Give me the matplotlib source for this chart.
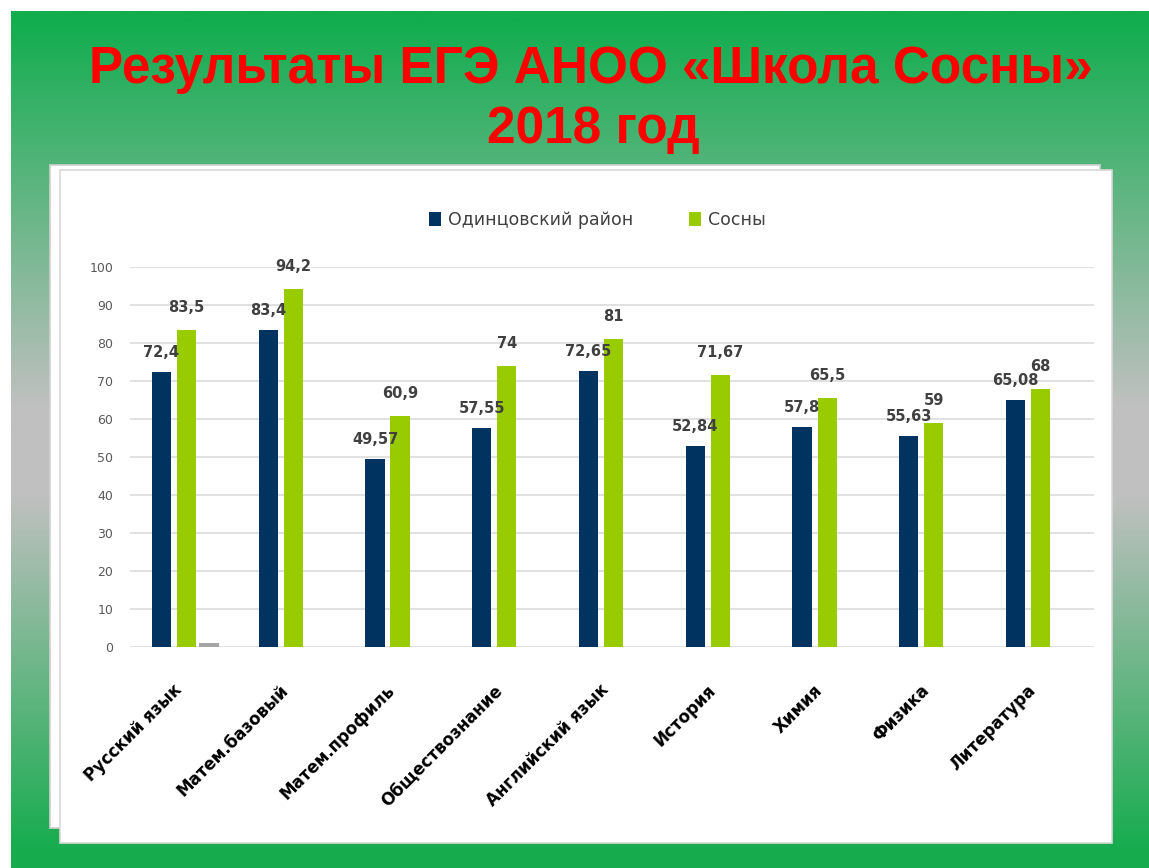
import numpy as np
import matplotlib
matplotlib.use("Agg")
import matplotlib.pyplot as plt
from matplotlib.patches import Rectangle, Patch
from matplotlib.transforms import offset_copy

# ---- data ----
categories = ["Русский язык", "Матем.базовый", "Матем.профиль", "Обществознание",
              "Английский язык", "История", "Химия", "Физика", "Литература"]
odintsovo = [72.4, 83.4, 49.57, 57.55, 72.65, 52.84, 57.8, 55.63, 65.08]
sosny = [83.5, 94.2, 60.9, 74, 81, 71.67, 65.5, 59, 68]
extra = [1, np.nan, np.nan, np.nan, np.nan, np.nan, np.nan, np.nan, np.nan]
odintsovo_labels = ["72,4", "83,4", "49,57", "57,55", "72,65", "52,84", "57,8", "55,63", "65,08"]
sosny_labels = ["83,5", "94,2", "60,9", "74", "81", "71,67", "65,5", "59", "68"]
series_names = ["Одинцовский район", "Сосны"]
yticks = [0, 10, 20, 30, 40, 50, 60, 70, 80, 90, 100]
title_lines = ["Результаты ЕГЭ АНОО «Школа Сосны»", "2018 год"]

W, H = 1149, 868
fig = plt.figure(figsize=(W / 100, H / 100), dpi=100)
fig.patch.set_facecolor("white")

# ---- background (slide) ----
bg = fig.add_axes([0, 0, 1, 1])
bg.set_xlim(0, W)
bg.set_ylim(H, 0)
bg.axis("off")
ys = np.arange(H)
stops_y = [11, 400, 490, 850]
top = np.array([18, 173, 79]) / 255
mid = np.array([192, 192, 192]) / 255
bot = np.array([22, 172, 78]) / 255
grad = np.zeros((H, 1, 3))
for c in range(3):
    grad[:, 0, c] = np.interp(ys, stops_y, [top[c], mid[c], mid[c], bot[c]])
bg.imshow(grad, extent=(11, W, H, 11), aspect="auto", zorder=0)
# panels
bg.add_patch(Rectangle((50, 165), 1050, 663, facecolor="white", edgecolor="#d0d0d0", lw=1.2, zorder=1))
bg.add_patch(Rectangle((60, 170), 1052, 673, facecolor="white", edgecolor="#d8d8d8", lw=1.2, zorder=2))

# title
bg.text(591, 70, title_lines[0], color="#ff0000", fontsize=37, fontweight="bold",
        family="Liberation Sans", ha="center", va="center", zorder=3)
bg.text(593, 130, title_lines[1], color="#ff0000", fontsize=37, fontweight="bold",
        family="Liberation Sans", ha="center", va="center", zorder=3)

# ---- chart ----
left, right, ytop, ybot = 130, 1094, 267, 647
ax = fig.add_axes([left / W, 1 - ybot / H, (right - left) / W, (ybot - ytop) / H])
ax.set_facecolor("none")
x = np.arange(len(categories))
bw = 0.18
c_dark, c_green, c_gray = "#00335f", "#99cc00", "#a6a6a6"
ax.bar(x - 0.235, odintsovo, bw, color=c_dark, zorder=3)
ax.bar(x, sosny, bw, color=c_green, zorder=3)
ax.bar(x + 0.21, extra, bw, color=c_gray, zorder=3)

ax.set_xlim(-0.53, 8.5)
ax.set_ylim(0, 100)
ax.set_yticks(yticks)
ax.yaxis.grid(True, color="#d9d9d9", lw=1.1, zorder=0)
for s in ax.spines.values():
    s.set_visible(False)
ax.tick_params(axis="y", length=0, pad=12, labelsize=9, labelcolor="#595959")
ax.tick_params(axis="x", length=0)
ax.set_xticks(x)
ax.set_xticklabels([])

for i, cat in enumerate(categories):
    tr = offset_copy(ax.get_xaxis_transform(), fig=fig, x=-14, y=-34, units="dots")
    ax.text(i, 0, cat, transform=tr, rotation=45, rotation_mode="anchor",
            ha="right", va="top", fontsize=12, fontweight="bold", color="black")

for i in range(len(categories)):
    ax.annotate(odintsovo_labels[i], (x[i] - 0.235, odintsovo[i]), xytext=(0, 14),
                textcoords="offset points", ha="center", va="center", fontsize=10.5,
                fontweight="bold", color="#404040", annotation_clip=False, zorder=5)
    ax.annotate(sosny_labels[i], (x[i], sosny[i]), xytext=(0, 16),
                textcoords="offset points", ha="center", va="center", fontsize=10.5,
                fontweight="bold", color="#404040", annotation_clip=False, zorder=5)

handles = [Patch(facecolor=c_dark), Patch(facecolor=c_green)]
fig.legend(handles, series_names, loc="center", bbox_to_anchor=(597 / W, 1 - 220 / H),
           ncol=2, frameon=False, fontsize=12.5, labelcolor="#404040",
           handlelength=0.7, handleheight=0.9, handletextpad=0.4, columnspacing=3.2)

fig.savefig("out.png", dpi=100)
